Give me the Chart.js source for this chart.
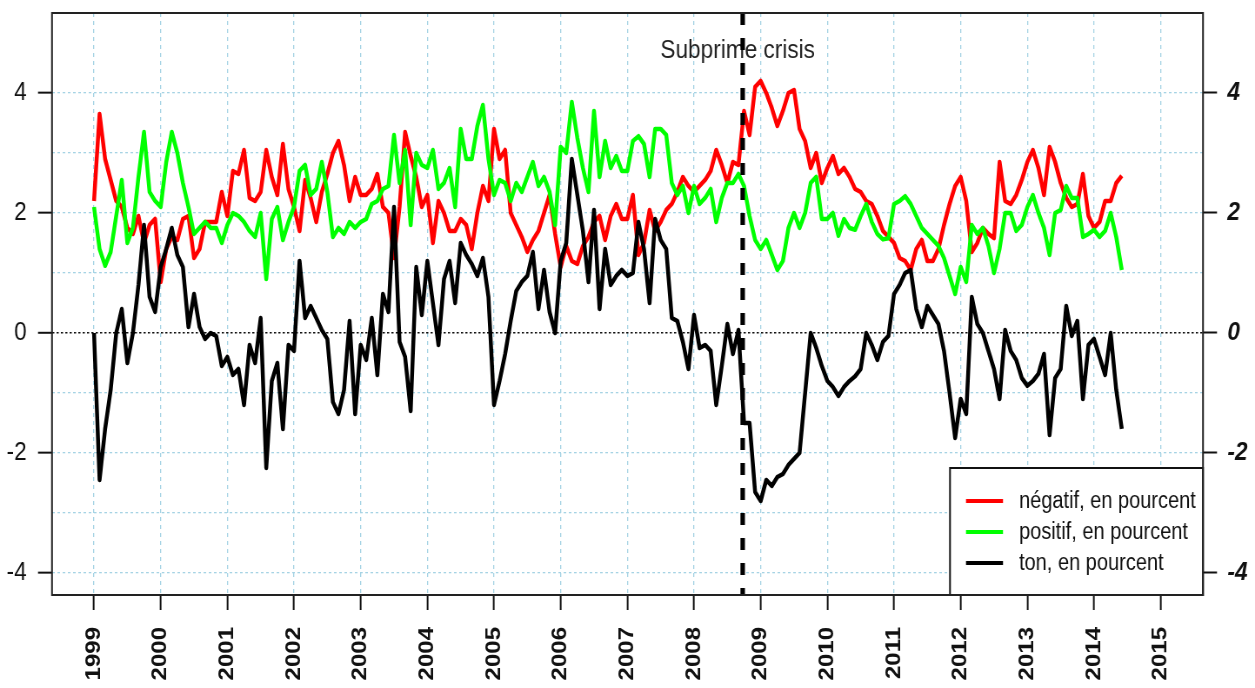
<!DOCTYPE html>
<html lang="fr">
<head>
<meta charset="UTF-8">
<title>Ton des articles</title>
<script src="https://cdn.jsdelivr.net/npm/chart.js@4.4.1/dist/chart.umd.min.js"></script>
<style>
  html, body { margin: 0; padding: 0; background: #fff; }
</style>
</head>
<body>
<!-- drawn wider and squeezed by css, the original's type is narrow -->
<canvas id="chart" width="1443" height="688" style="width:1255px;height:688px"></canvas>
<script>
const startYear = 1999;     // first monthly value, Jan 1999
const crisisDate = 2008.73; // Subprime crisis marker
const years = [1999, 2000, 2001, 2002, 2003, 2004, 2005, 2006, 2007, 2008, 2009, 2010, 2011, 2012, 2013, 2014, 2015];
const yTicks = [-4, -3, -2, -1, 0, 1, 2, 3, 4];

// monthly values, Jan 1999 - Jun 2014
const negatif = [
  2.2, 3.65, 2.9, 2.55, 2.2, 2.1, 1.75, 1.65, 1.95, 1.5, 1.8, 1.9,
  0.85, 1.4, 1.6, 1.55, 1.9, 1.95, 1.25, 1.4, 1.85, 1.85, 1.85, 2.35,
  1.95, 2.7, 2.65, 3.05, 2.25, 2.2, 2.35, 3.05, 2.6, 2.3, 3.15, 2.4,
  2.1, 1.7, 2.55, 2.25, 1.85, 2.35, 2.65, 3.0, 3.2, 2.8, 2.2, 2.6,
  2.3, 2.3, 2.4, 2.65, 2.1, 2.0, 1.25, 2.1, 3.35, 2.95, 2.6, 2.1,
  2.3, 1.5, 2.2, 2.0, 1.7, 1.7, 1.9, 1.8, 1.4, 2.0, 2.45, 2.2,
  3.4, 2.9, 3.05, 2.0, 1.8, 1.6, 1.35, 1.55, 1.7, 2.0, 2.3, 1.65,
  1.1, 1.45, 1.2, 1.15, 1.45, 1.6, 1.85, 1.95, 1.55, 1.95, 2.15, 1.9,
  1.9, 2.3, 1.3, 1.5, 2.05, 1.7, 1.85, 2.05, 2.15, 2.35, 2.6, 2.45,
  2.35, 2.45, 2.55, 2.7, 3.05, 2.8, 2.5, 2.85, 2.8, 3.7, 3.3, 4.1,
  4.2, 4.0, 3.75, 3.45, 3.7, 4.0, 4.05, 3.4, 3.2, 2.75, 3.0, 2.5,
  2.75, 2.95, 2.65, 2.75, 2.6, 2.4, 2.35, 2.2, 2.15, 1.95, 1.7, 1.6,
  1.5, 1.25, 1.2, 1.05, 1.4, 1.55, 1.2, 1.2, 1.4, 1.8, 2.15, 2.45,
  2.6, 2.2, 1.35, 1.5, 1.75, 1.65, 1.58, 2.85, 2.2, 2.15, 2.3, 2.55,
  2.85, 3.05, 2.75, 2.3, 3.1, 2.85, 2.5, 2.25, 2.1, 2.15, 2.65, 1.95,
  1.75, 1.85, 2.2, 2.2, 2.5, 2.62
];
const positif = [
  2.1, 1.4, 1.12, 1.35, 1.95, 2.55, 1.5, 1.75, 2.6, 3.35, 2.35, 2.2,
  2.1, 2.85, 3.35, 3.0, 2.5, 2.1, 1.65, 1.75, 1.85, 1.75, 1.75, 1.5,
  1.8, 2.0, 1.95, 1.85, 1.7, 1.6, 2.0, 0.9, 1.9, 2.1, 1.55, 1.85,
  2.1, 2.7, 2.8, 2.3, 2.4, 2.85, 2.35, 1.6, 1.75, 1.65, 1.85, 1.75,
  1.85, 1.9, 2.15, 2.2, 2.4, 2.45, 3.3, 2.5, 3.05, 1.8, 3.0, 2.8,
  2.75, 3.05, 2.4, 2.5, 2.75, 2.1, 3.4, 2.9, 2.9, 3.45, 3.8, 2.9,
  2.3, 2.55, 2.5, 2.2, 2.5, 2.35, 2.6, 2.85, 2.45, 2.6, 2.35, 1.8,
  3.1, 3.0, 3.85, 3.25, 2.75, 2.35, 3.7, 2.6, 3.2, 2.75, 2.95, 2.7,
  2.7, 3.2, 3.28, 3.15, 2.6, 3.4, 3.4, 3.3, 2.5, 2.3, 2.45, 2.0,
  2.45, 2.15, 2.25, 2.4, 1.85, 2.25, 2.5, 2.5, 2.65, 2.45, 1.95, 1.55,
  1.4, 1.55, 1.3, 1.05, 1.2, 1.75, 2.0, 1.75, 2.0, 2.5, 2.6, 1.9,
  1.9, 2.0, 1.62, 1.9, 1.75, 1.72, 1.95, 2.15, 1.85, 1.65, 1.56, 1.58,
  2.15, 2.2, 2.28, 2.15, 1.95, 1.75, 1.65, 1.55, 1.45, 1.25, 0.95, 0.65,
  1.1, 0.85, 1.8, 1.65, 1.75, 1.45, 1.0, 1.4, 2.0, 2.0, 1.7, 1.8,
  2.1, 2.3, 2.0, 1.75, 1.3, 2.0, 2.05, 2.45, 2.25, 2.25, 1.6, 1.65,
  1.72, 1.6, 1.7, 2.0, 1.6, 1.05
];
const ton = [
  0.0, -2.45, -1.6, -0.95, 0.0, 0.4, -0.5, 0.0, 0.8, 1.8, 0.6, 0.35,
  1.1, 1.4, 1.75, 1.3, 1.1, 0.1, 0.65, 0.1, -0.1, 0.0, -0.05, -0.55,
  -0.4, -0.7, -0.6, -1.2, -0.2, -0.5, 0.25, -2.25, -0.8, -0.5, -1.6, -0.2,
  -0.3, 1.2, 0.25, 0.45, 0.25, 0.05, -0.1, -1.15, -1.35, -0.95, 0.2, -1.35,
  -0.2, -0.45, 0.25, -0.7, 0.65, 0.35, 2.1, -0.15, -0.4, -1.3, 1.1, 0.3,
  1.2, 0.5, -0.2, 0.9, 1.2, 0.5, 1.5, 1.3, 1.15, 0.95, 1.25, 0.6,
  -1.2, -0.8, -0.35, 0.2, 0.7, 0.85, 0.95, 1.35, 0.4, 1.05, 0.35, 0.0,
  1.2, 1.5, 2.9, 2.3, 1.7, 0.85, 2.05, 0.4, 1.4, 0.8, 0.95, 1.05,
  0.95, 1.0, 1.85, 1.4, 0.5, 1.9, 1.55, 1.4, 0.25, 0.2, -0.15, -0.6,
  0.3, -0.25, -0.2, -0.3, -1.2, -0.55, 0.15, -0.35, 0.05, -1.5, -1.5, -2.65,
  -2.8, -2.45, -2.55, -2.4, -2.35, -2.2, -2.1, -2.0, -1.0, 0.0, -0.25, -0.55,
  -0.8, -0.9, -1.05, -0.9, -0.8, -0.72, -0.6, 0.0, -0.2, -0.45, -0.15, -0.05,
  0.65, 0.8, 1.0, 1.05, 0.4, 0.1, 0.45, 0.3, 0.15, -0.3, -1.0, -1.75,
  -1.1, -1.35, 0.6, 0.15, 0.0, -0.3, -0.6, -1.1, 0.05, -0.3, -0.45, -0.75,
  -0.88, -0.8, -0.68, -0.35, -1.7, -0.75, -0.6, 0.45, -0.05, 0.2, -1.1, -0.2,
  -0.1, -0.4, -0.7, 0.0, -0.95, -1.6
];

const months = negatif.map((_, i) => startYear + i / 12);
const toPoints = arr => arr.map((v, i) => ({ x: months[i], y: v }));

// horizontal squeeze of the canvas (css width / canvas width)
const sx = 1255 / 1443;
const px = w => w / sx;

const FONT = '"Liberation Sans", Arial, sans-serif';
const gridBlue = '#a6d3e4';

// y axes: fixed width, no extra room above/below for labels
const fitY = s => {
  s.width = px(52);
  s.paddingTop = 0;
  s.paddingBottom = 0;
};

const extras = {
  id: 'extras',
  afterDatasetsDraw(chart) {
    const { ctx, chartArea: a, scales: { x, y } } = chart;
    const cx = x.getPixelForValue(crisisDate);
    ctx.save();

    ctx.fillStyle = '#222';
    ctx.font = '26px ' + FONT;
    ctx.textAlign = 'center';
    ctx.textBaseline = 'alphabetic';
    ctx.fillText('Subprime crisis', cx - px(5), y.getPixelForValue(4.58));

    ctx.strokeStyle = '#000';
    ctx.lineWidth = px(4.5);
    ctx.setLineDash([12, 13]);
    ctx.beginPath();
    ctx.moveTo(cx, a.top);
    ctx.lineTo(cx, a.bottom);
    ctx.stroke();
    ctx.setLineDash([]);

    // legend box, bottom right corner
    const w = px(253), h = 127;
    const lx = a.right - w, ly = a.bottom - h;
    ctx.fillStyle = '#fff';
    ctx.fillRect(lx, ly, w, h);
    ctx.strokeStyle = '#111';
    ctx.lineWidth = 2;
    ctx.strokeRect(lx, ly, w, h);
    ctx.font = '23px ' + FONT;
    ctx.textAlign = 'left';
    ctx.textBaseline = 'middle';
    chart.data.datasets.forEach((ds, i) => {
      const ry = ly + 33 + i * 31;
      ctx.strokeStyle = ds.borderColor;
      ctx.lineWidth = 4;
      ctx.beginPath();
      ctx.moveTo(lx + px(16), ry);
      ctx.lineTo(lx + px(53), ry);
      ctx.stroke();
      ctx.fillStyle = '#111';
      ctx.fillText(ds.label, lx + px(69), ry + 1);
    });

    // plot frame
    ctx.strokeStyle = '#222';
    ctx.lineWidth = 2;
    ctx.strokeRect(a.left, a.top, a.width, a.height);
    ctx.restore();
  }
};

new Chart(document.getElementById('chart'), {
  type: 'line',
  data: {
    datasets: [
      { label: 'négatif, en pourcent', data: toPoints(negatif), borderColor: '#ff0000', order: 3 },
      { label: 'positif, en pourcent', data: toPoints(positif), borderColor: '#00ff00', order: 2 },
      { label: 'ton, en pourcent', data: toPoints(ton), borderColor: '#000000', order: 1 }
    ]
  },
  options: {
    responsive: false,
    animation: false,
    devicePixelRatio: 1,
    layout: { padding: { top: 13 } },
    elements: {
      line: { borderWidth: 4.5, tension: 0, borderJoinStyle: 'round' },
      point: { radius: 0 }
    },
    plugins: { legend: { display: false }, tooltip: { enabled: false } },
    scales: {
      x: {
        type: 'linear',
        min: 1998.37,
        max: 2015.635,
        afterBuildTicks: s => { s.ticks = years.map(v => ({ value: v })); },
        afterFit: s => { s.height = 93; },
        ticks: {
          autoSkip: false, minRotation: 90, maxRotation: 90, padding: 17,
          color: '#111', font: { family: FONT, size: 24, weight: 'bold' },
          callback: v => String(v)
        },
        grid: { color: gridBlue, lineWidth: 1.3, tickLength: 15, tickWidth: 2, tickColor: '#111' },
        border: { display: false, dash: [4, 4] }
      },
      y: {
        min: -4.367,
        max: 5.333,
        afterBuildTicks: s => { s.ticks = yTicks.map(v => ({ value: v })); },
        afterFit: fitY,
        ticks: {
          padding: 13, color: '#111', font: { family: FONT, size: 26 },
          callback: v => (v % 2 === 0 ? String(v) : '')
        },
        grid: {
          color: c => (c.tick && c.tick.value === 0 ? '#111' : gridBlue),
          lineWidth: c => (c.tick && c.tick.value === 0 ? 1.6 : 1.3),
          tickLength: px(14), tickWidth: 2,
          tickColor: c => (c.tick && c.tick.value % 2 === 0 ? '#111' : 'rgba(0,0,0,0)')
        },
        border: { display: false, dash: c => (c.tick && c.tick.value === 0 ? [2.5, 2.5] : [3, 3]) }
      },
      y2: {
        position: 'right',
        min: -4.367,
        max: 5.333,
        afterBuildTicks: s => { s.ticks = yTicks.filter(v => v % 2 === 0).map(v => ({ value: v })); },
        afterFit: fitY,
        ticks: {
          padding: 12, color: '#111',
          font: { family: FONT, size: 26, style: 'italic', weight: 'bold' },
          callback: v => String(v)
        },
        grid: { drawOnChartArea: false, tickLength: px(14), tickWidth: 2, tickColor: '#111' },
        border: { display: false }
      }
    }
  },
  plugins: [extras]
});
</script>
</body>
</html>
